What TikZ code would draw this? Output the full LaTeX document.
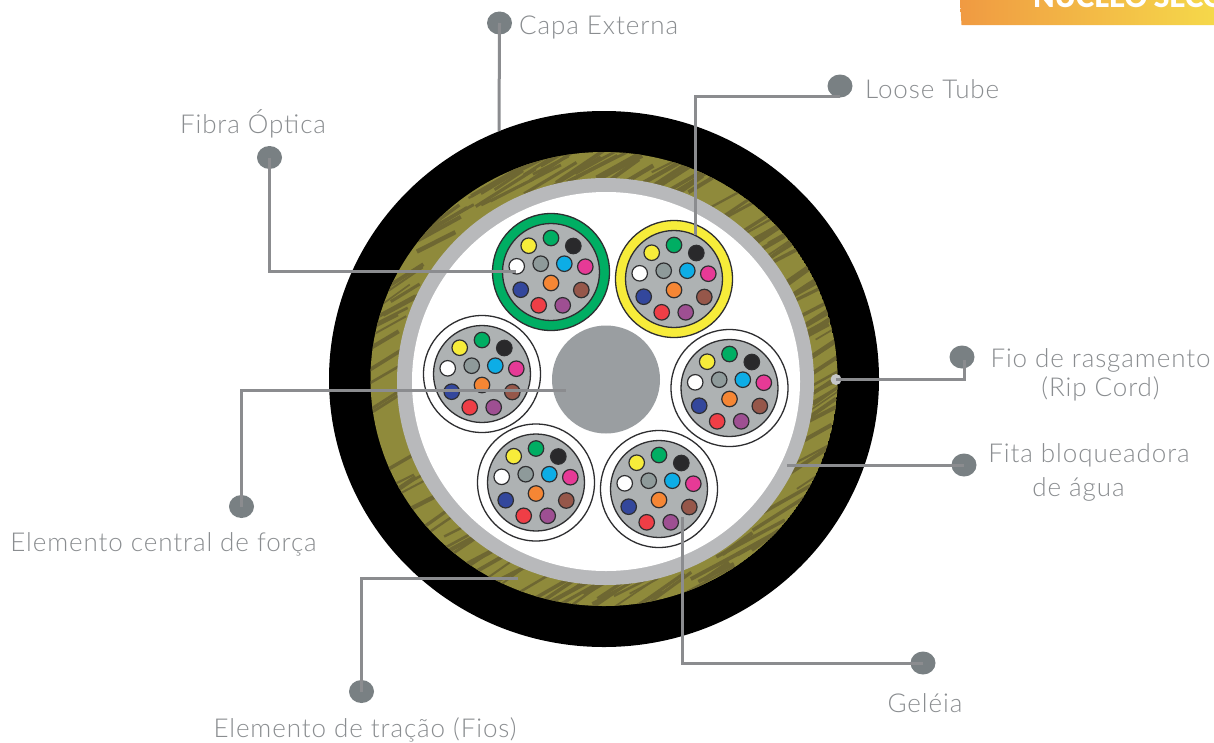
\documentclass[tikz,border=0pt]{standalone}
\usepackage{fontspec}
\setmainfont[LetterSpace=3.5]{Lato Light}
\newfontfamily\boldfam{Lato Black}
\usetikzlibrary{shapes.geometric}
\definecolor{olive}{HTML}{8F8A3B}
\definecolor{olivedk}{HTML}{6E6732}
\definecolor{ringgray}{HTML}{B8B9BB}
\definecolor{coregray}{HTML}{9A9EA1}
\definecolor{tubegray}{HTML}{AEB2B3}
\definecolor{outline}{HTML}{2E2E30}
\definecolor{leader}{HTML}{8B8C8F}
\definecolor{dotgray}{HTML}{798083}
\definecolor{labelgray}{HTML}{8A8D90}
\definecolor{tubegreen}{HTML}{00AE63}
\definecolor{tubeyellow}{HTML}{F7EC3A}
\definecolor{fyellow}{HTML}{F7EC3A}
\definecolor{fgreen}{HTML}{00AE63}
\definecolor{fblack}{HTML}{29292B}
\definecolor{fgray}{HTML}{8E9A9A}
\definecolor{fblue}{HTML}{0DADE6}
\definecolor{fmagenta}{HTML}{E63A96}
\definecolor{fnavy}{HTML}{33479C}
\definecolor{forange}{HTML}{F58634}
\definecolor{fbrown}{HTML}{96574A}
\definecolor{fred}{HTML}{EF3E46}
\definecolor{fpurple}{HTML}{9E4F92}
\definecolor{bannerL}{HTML}{F09A42}
\definecolor{bannerR}{HTML}{F5D84A}
\tikzset{
  label text/.style={text=labelgray,font=\fontsize{26}{29}\selectfont,inner sep=0pt,align=center},
  leader line/.style={draw=leader,line width=3pt},
  leader dot/.style={shape=ellipse,fill=dotgray,inner sep=0pt,minimum width=25pt,minimum height=23pt},
  fiber/.style={circle,draw=outline,line width=1.2pt,minimum size=15.5pt,inner sep=0pt},
}
\newcommand{\fiberset}[2]{%
  \begin{scope}[shift={(#1,#2)}]
    \foreach \fx/\fy/\fc in {-22.3/-26.3/fyellow,0/-34/fgreen,22.3/-26/fblack,-34.3/-5.7/white,
      -10.3/-8.3/fgray,13.3/-8.3/fblue,34.3/-5.3/fmagenta,-30.3/17.7/fnavy,0/11/forange,
      30.3/18/fbrown,-12.3/33.3/fred,11.7/33.3/fpurple}{
      \node[fiber,fill=\fc] at (\fx,\fy) {};
    }
  \end{scope}}
\newcommand{\tube}[3]{%
  \fill[#3,draw=outline,line width=1.3pt] (#1,#2) circle[radius=58.5pt];
  \fill[tubegray,draw=outline,line width=1.3pt] (#1,#2) circle[radius=48.5pt];
  \fiberset{#1}{#2}}
\begin{document}
\begin{tikzpicture}[x=1pt,y=-1pt]
\useasboundingbox (0,0) rectangle (1214,742);
\fill[white] (0,0) rectangle (1214,742);
% banner
\begin{scope}
  \clip (960,0) -- (961.5,25) -- (1214,25) -- (1214,0) -- cycle;
  \shade[left color=bannerL,right color=bannerR] (960,0) rectangle (1214,25);
  \node[anchor=base west,inner sep=0pt,text=white,font=\boldfam\fontsize{28}{30}\selectfont] (banner) at (1033,7) {NÚCLEO SECO};
\end{scope}
% outer jacket
\fill[black] (604,379) ellipse[x radius=275pt,y radius=268pt];
% aramid ring with stripes
\begin{scope}
  \clip (604,379) ellipse[x radius=233.5pt,y radius=227pt];
  \fill[olive] (604,379) ellipse[x radius=233.5pt,y radius=227pt];
  \pgfmathsetseed{4711}
  \foreach \i in {1,...,150}{
    \pgfmathsetmacro{\ang}{rnd*360}
    \pgfmathsetmacro{\rr}{210+rnd*24}
    \pgfmathsetmacro{\dir}{26+rnd*10}
    \pgfmathsetmacro{\len}{15+rnd*26}
    \pgfmathsetmacro{\wid}{1.5+rnd*3}
    \pgfmathsetmacro{\cx}{604+\rr*cos(\ang)}
    \pgfmathsetmacro{\cy}{379+0.97*\rr*sin(\ang)}
    \pgfmathsetmacro{\dx}{\len*cos(\dir)}
    \pgfmathsetmacro{\dy}{\len*sin(\dir)}
    \draw[olivedk,line width=\wid pt] (\cx-\dx,\cy+\dy) -- (\cx+\dx,\cy-\dy);
  }
\end{scope}
% water-blocking tape and interior
\fill[ringgray] (605.5,381.5) ellipse[x radius=208.5pt,y radius=203.5pt];
\fill[white] (606,381.5) ellipse[x radius=194pt,y radius=189.5pt];
% rip cord
\node[circle,fill=ringgray!80,minimum size=11pt,inner sep=0pt] (ripcord) at (836,379.5) {};
% centre strength member
\node[circle,fill=coregray,minimum size=108pt,inner sep=0pt] (core) at (606,379.5) {};
% tubes
\tube{551}{272}{tubegreen}
\tube{674}{279}{tubeyellow}
\tube{482}{374}{white}
\tube{729.5}{388}{white}
\tube{536}{482.5}{white}
\tube{659}{489}{white}
% anchors on the cable
\coordinate (capaEnd) at (499,131);
\coordinate (looseEnd) at (695,235);
\coordinate (fibraEnd) at (516,271);
\coordinate (fitaEnd) at (787,465);
\coordinate (coreEnd) at (566,390);
\coordinate (tracaoEnd) at (518,578);
\coordinate (geleiaEnd) at (682,517);
% leader dots
\node[leader dot] (dCapa) at (499.5,23) {};
\node[leader dot] (dLoose) at (840,86) {};
\node[leader dot] (dFibra) at (269.5,157.5) {};
\node[leader dot] (dRip) at (962,357) {};
\node[leader dot] (dFita) at (964,465) {};
\node[leader dot] (dCentral) at (241.5,506.5) {};
\node[leader dot] (dTracao) at (361.5,691.5) {};
\node[leader dot] (dGeleia) at (923,663) {};
% leaders
\draw[leader line] (dCapa.center) -- (capaEnd);
\draw[leader line] (dLoose.south) ++(0,-1) -| (looseEnd);
\draw[leader line] (dFibra.center) |- (fibraEnd);
\draw[leader line] (dRip.center) ++(2,3) |- (ripcord.center);
\draw[leader line] (dFita.center) -- (fitaEnd);
\draw[leader line] (dCentral.center) |- (coreEnd);
\draw[leader line] (dTracao.center) |- (tracaoEnd);
\draw[leader line] (dGeleia.center) -| (geleiaEnd);
% labels
\node[label text,anchor=west] (lCapa) at (519,27.5) {Capa Externa};
\node[label text,anchor=west] (lLoose) at (865,89.5) {Loose Tube};
\node[label text] (lFibra) at (253,124) {Fibra Óptica};
\node[label text] (lRip1) at (1100.5,360) {Fio de rasgamento};
\node[label text] (lRip2) at (1100.5,389) {(Rip Cord)};
\node[label text] (lFita1) at (1089,455) {Fita bloqueadora};
\node[label text] (lFita2) at (1078.5,489.5) {de água};
\node[label text] (lCentral) at (163.5,544) {Elemento central de força};
\node[label text] (lTracao) at (365,730) {Elemento de tração (Fios)};
\node[label text] (lGeleia) at (925,703) {Geléia};
\end{tikzpicture}
\end{document}
